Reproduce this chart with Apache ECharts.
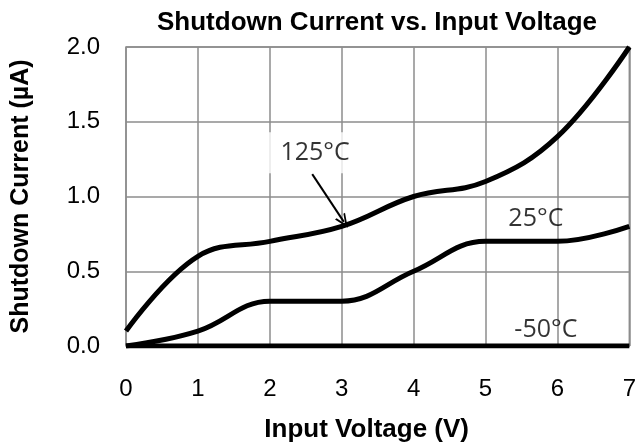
<!DOCTYPE html>
<html><head><meta charset="utf-8">
<script src="https://cdn.jsdelivr.net/npm/echarts@6/dist/echarts.min.js"></script>
<style>html,body{margin:0;padding:0;background:#fff;overflow:hidden}#c{width:639px;height:448px}</style>
</head><body><div id="c"></div>
<script>
const voltage = [0, 1, 2, 3, 4, 5, 6, 7];
const current125 = [0.1, 0.6, 0.7, 0.8, 1.0, 1.1, 1.4, 2.0];
const current25 = [0.0, 0.1, 0.3, 0.3, 0.5, 0.7, 0.7, 0.8];
const currentM50 = [0, 0, 0, 0, 0, 0, 0, 0];
const seriesNames = ['125°C', '25°C', '-50°C'];
const labelPos = [[2.546, 1.293], [5.70, 0.853], [5.84, 0.107]];
const arrowFrom = [2.59, 1.15], arrowTo = [3.03, 0.83];

const sans = '"Liberation Sans", Arial, sans-serif';
const pairs = arr => voltage.map((v, i) => [v, arr[i]]);
const chart = echarts.init(document.getElementById('c'));
const lineSeries = (name, arr) => ({
  name, type: 'line', data: pairs(arr), smooth: 0.4,
  showSymbol: false, symbol: 'none', lineStyle: { color: '#000', width: 5 }, z: 3
});
const s1 = lineSeries(seriesNames[0], current125);
s1.markLine = {
  silent: true,
  symbol: ['none', 'path://M5,0 L10,10 L8.4,10 L5,3.2 L1.6,10 L0,10 Z'],
  symbolSize: [12, 14],
  lineStyle: { color: '#000', width: 2, type: 'solid' }, label: { show: false },
  data: [[{ coord: arrowFrom }, { coord: arrowTo }]]
};
const labelFont = { color: '#000', fontFamily: '"Open Sans", "Liberation Sans", sans-serif', fontSize: 25 };
const labelSeries = {
  type: 'scatter', symbolSize: 0, z: 5,
  data: labelPos.map((p, i) => ({
    value: p, name: seriesNames[i],
    label: i === 0 ? { backgroundColor: '#fff', padding: [14, 2, 2, 14] } : { padding: 0 }
  })),
  label: Object.assign({ show: true, position: 'inside', formatter: p => p.name }, labelFont)
};
chart.setOption({
  animation: false,
  title: {
    text: 'Shutdown Current vs. Input Voltage', left: 152, top: 5,
    textStyle: { fontFamily: sans, fontWeight: 'bold', fontSize: 26, color: '#000' }
  },
  grid: { left: 126, right: 7, top: 47, bottom: 101, show: true, borderColor: '#8c8c8c', borderWidth: 1.5 },
  xAxis: {
    type: 'value', min: 0, max: 7, interval: 1,
    name: 'Input Voltage (V)', nameLocation: 'middle', nameGap: 71,
    nameTextStyle: { fontFamily: sans, fontWeight: 'bold', fontSize: 26, color: '#000', padding: [0, 22, 0, 0] },
    axisLine: { show: false }, axisTick: { show: false },
    axisLabel: { margin: 31, fontFamily: sans, fontSize: 24, color: '#000' },
    splitLine: { show: true, lineStyle: { color: '#8c8c8c', width: 1.5 } }
  },
  yAxis: {
    type: 'value', min: 0, max: 2, interval: 0.5,
    name: 'Shutdown Current (µA)', nameLocation: 'middle', nameGap: 92,
    nameTextStyle: { fontFamily: sans, fontWeight: 'bold', fontSize: 25, color: '#000' },
    axisLine: { show: false }, axisTick: { show: false },
    axisLabel: { margin: 26, fontFamily: sans, fontSize: 24, color: '#000', formatter: v => v.toFixed(1) },
    splitLine: { show: true, lineStyle: { color: '#8c8c8c', width: 1.5 } }
  },
  series: [s1, lineSeries(seriesNames[1], current25), lineSeries(seriesNames[2], currentM50), labelSeries]
});
</script></body></html>
